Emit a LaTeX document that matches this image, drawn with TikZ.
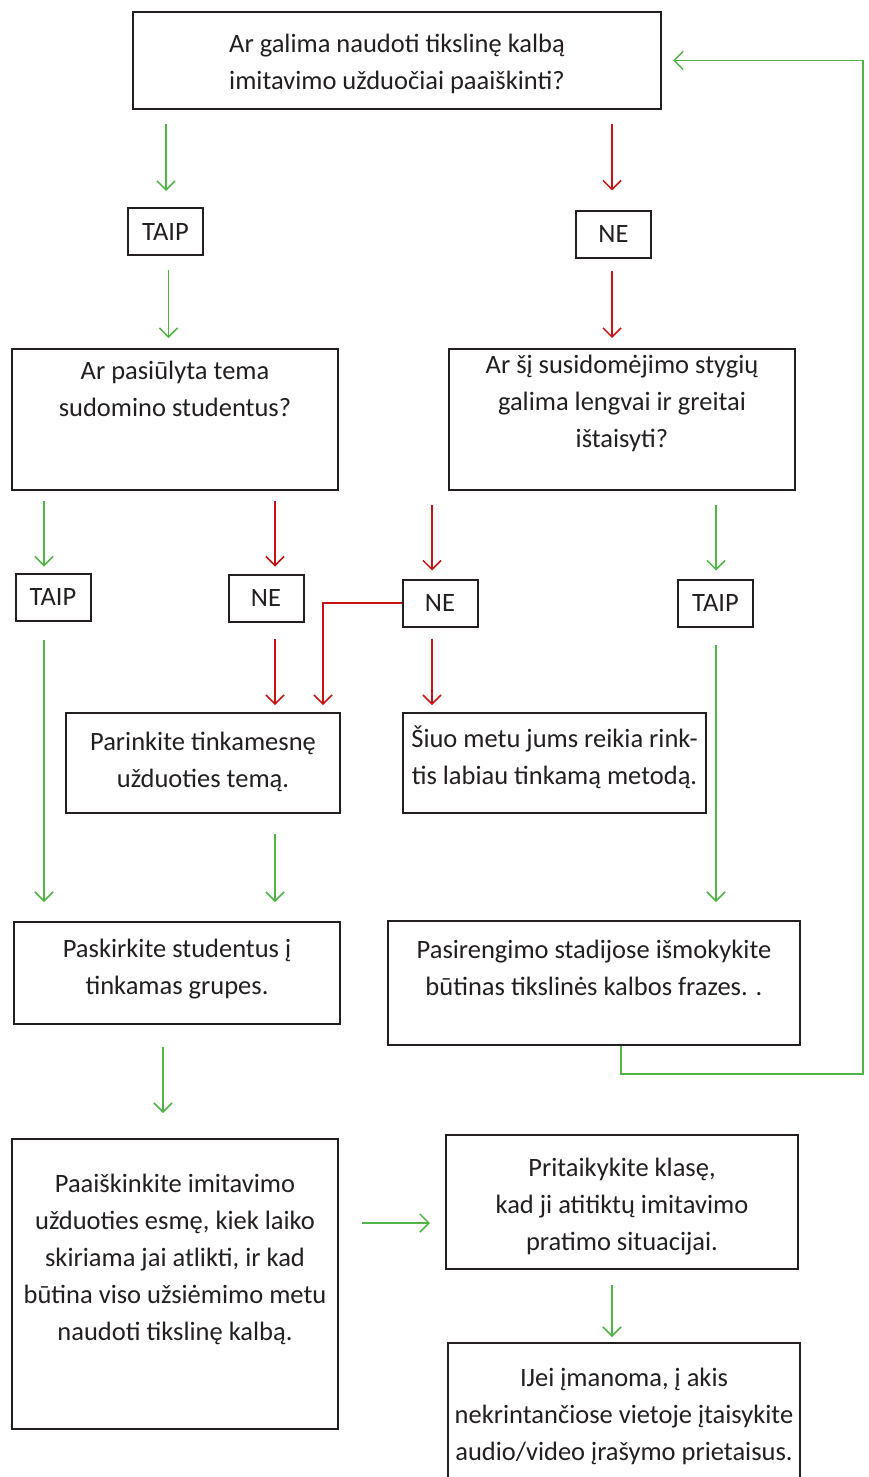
\documentclass[tikz,border=0pt]{standalone}
\usepackage{fontspec}
\setmainfont{Carlito}
\usepackage{tikz}
\usetikzlibrary{arrows.meta}

\definecolor{flowgreen}{RGB}{80,180,70}
\definecolor{flowred}{RGB}{200,20,20}
\definecolor{boxline}{RGB}{35,31,32}

\begin{document}
\begin{tikzpicture}[
  x=0.5pt, y=-0.5pt,
  box/.style={draw=boxline, line width=1pt, inner sep=0pt, text=boxline,
    font=\fontsize{13.25}{18.5}\selectfont},
  answer/.style={box, minimum width=37.5pt, minimum height=23.5pt},
  garr/.style={-{Straight Barb[length=4.5pt, width=9pt]}, flowgreen, line width=0.75pt},
  rarr/.style={-{Straight Barb[length=4.5pt, width=9pt]}, flowred, line width=0.75pt},
]

\useasboundingbox (0,0) rectangle (868,1477);

% --- Questions ---
\node[box] (q1) at (397,60.5)
  {\parbox[c][48.5pt][t]{264pt}{\centering\rule{0pt}{20.5pt}Ar galima naudoti tikslinę kalbą\\imitavimo užduočiai paaiškinti?}};
\node[box] (q2) at (175,419.5)
  {\parbox[c][70.5pt][t]{163pt}{\centering\rule{0pt}{15pt}Ar pasiūlyta tema\\sudomino studentus?}};
\node[box] (q3) at (622,419.5)
  {\parbox[c][70.5pt][t]{173pt}{\centering\rule{0pt}{12pt}Ar šį susidomėjimo stygių\\galima lengvai ir greitai\\ištaisyti?}};

% --- Answers ---
\node[answer] (taip1) at (165.5,231.5) {TAIP};
\node[answer] (ne1) at (613.5,234) {NE};
\node[answer] (taip2) at (53,597) {TAIP};
\node[answer] (ne2) at (266,598) {NE};
\node[answer] (ne3) at (440,603) {NE};
\node[answer] (taip3) at (715.5,603) {TAIP};

% --- Actions ---
\node[box] (p1) at (203,763)
  {\parbox[c][50pt][t]{137pt}{\centering\rule{0pt}{18.5pt}Parinkite tinkamesnę\\užduoties temą.}};
\node[box] (p2) at (554.5,763)
  {\parbox[c][50pt][t]{151.5pt}{\centering\rule{0pt}{17pt}Šiuo metu jums reikia rink-\\tis labiau tinkamą metodą.}};
\node[box] (a1) at (177,973)
  {\parbox[c][51pt][t]{163pt}{\centering\rule{0pt}{17.5pt}Paskirkite studentus į\\tinkamas grupes.}};
\node[box] (a2) at (594,983)
  {\parbox[c][62pt][t]{206pt}{\centering\rule{0pt}{18.5pt}Pasirengimo stadijose išmokykite\\būtinas tikslinės kalbos frazes. .}};
\node[box] (b1) at (175,1284)
  {\parbox[c][145pt][t]{163pt}{\centering\rule{0pt}{26.5pt}Paaiškinkite imitavimo\\užduoties esmę, kiek laiko\\skiriama jai atlikti, ir kad\\būtina viso užsiėmimo metu\\naudoti tikslinę kalbą.}};
\node[box] (b2) at (622,1202)
  {\parbox[c][67pt][t]{176pt}{\centering\rule{0pt}{20.5pt}Pritaikykite klasę,\\kad ji atitiktų imitavimo\\pratimo situacijai.}};
\node[box] (b3) at (624,1419)
  {\parbox[c][76pt][t]{176pt}{\centering\rule{0pt}{21.5pt}IJei įmanoma, į akis\\nekrintančiose vietoje įtaisykite\\audio/video įrašymo prietaisus.}};

% --- Arrows: first question ---
\draw[garr, shorten <=7pt, shorten >=8pt] ([xshift=0.25pt]q1.south -| taip1.north) -- ([xshift=0.25pt]taip1.north);
\draw[garr, shorten <=7pt, shorten >=5pt] ([xshift=1.5pt]taip1.south) -- ([xshift=1.5pt]taip1.south |- q2.north);
\draw[rarr, shorten <=7pt, shorten >=9.5pt] ([xshift=-0.75pt]q1.south -| ne1.north) -- ([xshift=-0.75pt]ne1.north);
\draw[rarr, shorten <=6pt, shorten >=5pt] ([xshift=-0.75pt]ne1.south) -- ([xshift=-0.75pt]ne1.south |- q3.north);

% --- Arrows: second and third question ---
\draw[garr, shorten <=5pt, shorten >=3pt] ([xshift=-4.5pt]q2.south -| taip2.north) -- ([xshift=-4.5pt]taip2.north);
\draw[rarr, shorten <=5pt, shorten >=3.5pt] ([xshift=4.5pt]q2.south -| ne2.north) -- ([xshift=4.5pt]ne2.north);
\draw[rarr, shorten <=7pt, shorten >=4pt] ([xshift=-4pt]q3.south -| ne3.north) -- ([xshift=-4pt]ne3.north);
\draw[garr, shorten <=7pt, shorten >=4pt] ([xshift=0.25pt]q3.south -| taip3.north) -- ([xshift=0.25pt]taip3.north);

% --- Arrows: answers to actions ---
\draw[garr, shorten <=9pt, shorten >=9.5pt] ([xshift=-4.5pt]taip2.south) -- ([xshift=-4.5pt]taip2.south |- a1.north);
\draw[rarr, shorten <=8pt, shorten >=3.5pt] ([xshift=4.5pt]ne2.south) -- ([xshift=4.5pt]ne2.south |- p1.north);
\draw[rarr, shorten >=3.5pt] (ne3.west) -| ([xshift=60pt]p1.north);
\draw[rarr, shorten <=5.5pt, shorten >=3.5pt] ([xshift=-4pt]ne3.south) -- ([xshift=-4pt]ne3.south |- p2.north);
\draw[garr, shorten <=8.5pt, shorten >=9pt] ([xshift=0.25pt]taip3.south) -- ([xshift=0.25pt]taip3.south |- a2.north);
\draw[garr, shorten <=10pt, shorten >=9.5pt] ([xshift=36pt]p1.south) -- ([xshift=36pt]p1.south |- a1.north);

% --- Loop back to the first question ---
\draw[garr, shorten >=5.5pt] ([xshift=13.5pt]a2.south) -- ++(0,28) -| ([xshift=100.5pt]q1.east) -- (q1.east);

% --- Arrows: preparation ---
\draw[garr, shorten <=11pt, shorten >=12.5pt] ([xshift=-7pt]a1.south) -- ([xshift=-7pt]a1.south |- b1.north);
\draw[garr, shorten <=11.5pt, shorten >=7.5pt] ([yshift=30.5pt]b1.east) -- ([yshift=30.5pt]b1.east -| b2.west);
\draw[garr, shorten <=7.5pt, shorten >=2.5pt] ([xshift=-5pt]b2.south) -- ([xshift=-5pt]b2.south |- b3.north);

\end{tikzpicture}
\end{document}
